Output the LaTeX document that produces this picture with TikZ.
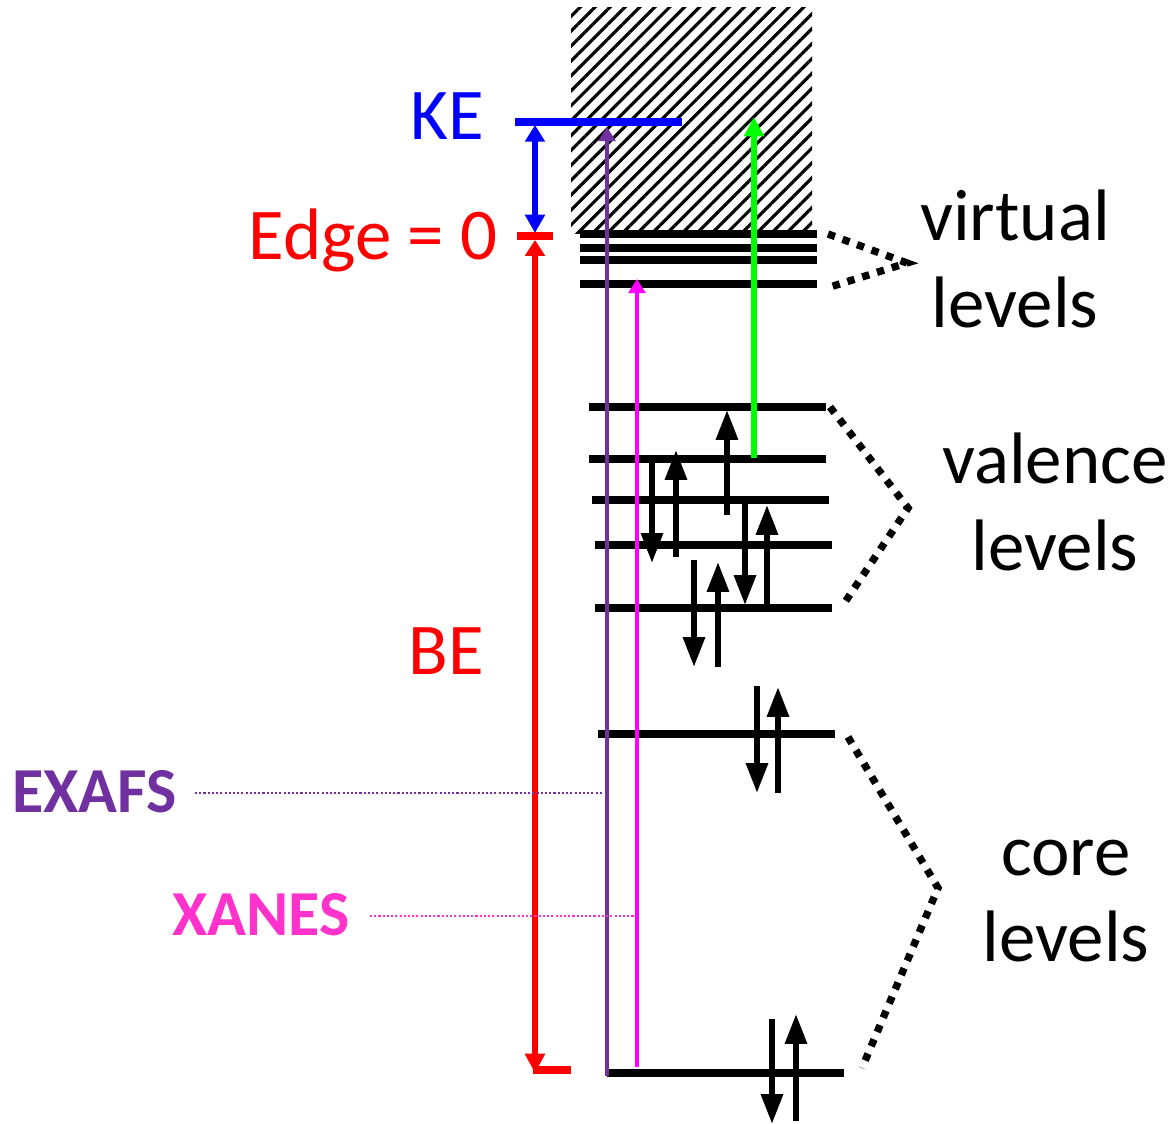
\documentclass[tikz,border=0pt]{standalone}
\usepackage{fontspec}
\setmainfont{Carlito}
\usetikzlibrary{arrows.meta,patterns.meta}

\definecolor{keblue}{RGB}{0,0,255}
\definecolor{bered}{RGB}{255,0,0}
\definecolor{exafspurple}{RGB}{112,48,160}
\definecolor{xanespink}{RGB}{255,51,204}
\definecolor{xanesline}{RGB}{255,0,255}
\definecolor{probegreen}{RGB}{0,255,0}

\tikzset{
  lvl/.style={line width=4.6pt},
  spin/.style={line width=3.3pt,-{Triangle[width=12pt,length=17pt]}},
  bracket/.style={line width=4.2pt,dash pattern=on 4.2pt off 4.6pt},
  guide/.style={line width=1.2pt,dash pattern=on 1.2pt off 1.2pt},
  big/.style={font=\fontsize{41.5}{49}\selectfont,inner sep=0pt},
  tag/.style={font=\bfseries\fontsize{36.5}{44}\selectfont,inner sep=0pt}
}

\begin{document}
\begin{tikzpicture}[x=0.02cm,y=-0.02cm,line cap=butt]
  \useasboundingbox (0,0) rectangle (1174,1124);
  % continuum above the edge
  \fill[pattern={Lines[angle=45,distance=6pt,line width=1.8pt]}] (571,8) rectangle (812,234);
  % virtual levels
  \foreach \y [count=\i] in {234,248,260,284}
    \draw[lvl] (580,\y) -- (817,\y) coordinate (vir\i);
  % valence levels
  \foreach \y/\a/\b [count=\i] in {407/589/826,459/589/826,500/592/829,545/595/832,608/595/832}
    \draw[lvl] (\a,\y) -- (\b,\y) coordinate (val\i);
  % core levels
  \draw[lvl] (598,734) -- (835,734) coordinate (core1);
  \draw[lvl] (607,1073) coordinate (core2w) -- (844,1073) coordinate (core2);
  % electrons
  \foreach \x/\a/\b in {727/515/410,652/460/563,676/557/450,745/503/605,767/607/505,
      694/560/667,718/667/562,757/686/793,778/793/687,772/1019/1124,796/1121/1014}
    \draw[spin] (\x,\a) -- (\x,\b);
  % brackets
  \draw[bracket] (828,234) -- (907,263) -- (830,287);
  \draw[bracket] (830,407) -- (908,508) -- (843,605);
  \draw[bracket] (848,737) -- (938,888) -- (862,1068);

  % kinetic energy and edge
  \coordinate (ke0) at (515,122);
  \coordinate (ke1) at (682,122);
  \draw[keblue,line width=5pt] (ke0) -- (ke1);
  \draw[keblue,line width=3.2pt,{Triangle[width=11pt,length=9.5pt]}-{Triangle[width=11pt,length=10.5pt]}] (535,125) -- (535,233);
  \coordinate (edge0) at (517,236);
  \coordinate (edge1) at (553,236);
  \draw[bered,line width=5pt] (edge0) -- (edge1);
  \draw[bered,line width=3.2pt,{Triangle[width=11pt,length=9pt]}-{Triangle[width=11pt,length=11pt]}] (535,240) -- (535,1073);
  \draw[bered,line width=4.4pt] (533,1070) -- (571,1070);

  % absorption paths
  \coordinate (exafstop) at (607,127);
  \coordinate (xanestop) at (637,279);
  \draw[exafspurple,line width=2.1pt,-{Triangle[width=9.5pt,length=8pt]}] (607,1076) -- (exafstop);
  \draw[xanesline,line width=2.1pt,-{Triangle[width=9.5pt,length=8pt]}] (637,1067) -- (xanestop);
  \draw[probegreen,line width=3.2pt,-{Triangle[width=11pt,length=11pt]}] (754,458) -- (754,117);

  % labels
  \node[big,keblue,anchor=base east] (ke) at (484,140) {KE};
  \node[big,bered,anchor=base east] (edge) at (498,260) {Edge = 0};
  \node[big,bered,anchor=base east] (be) at (484,675) {BE};
  \node[tag,exafspurple,anchor=base west] (exafs) at (12,813) {EXAFS};
  \node[tag,xanespink,anchor=base west] (xanes) at (172,936) {XANES};
  \node[big,align=center] (virt) at (1015,259) {virtual\\levels};
  \node[big,align=center] (vale) at (1055,502) {valence\\levels};
  \node[big,align=center] (core) at (1066,901) {core\\levels};

  \draw[exafspurple,guide] (195,793) -- (604,793);
  \draw[xanespink,guide] (370,916) -- (634,916);
\end{tikzpicture}
\end{document}
